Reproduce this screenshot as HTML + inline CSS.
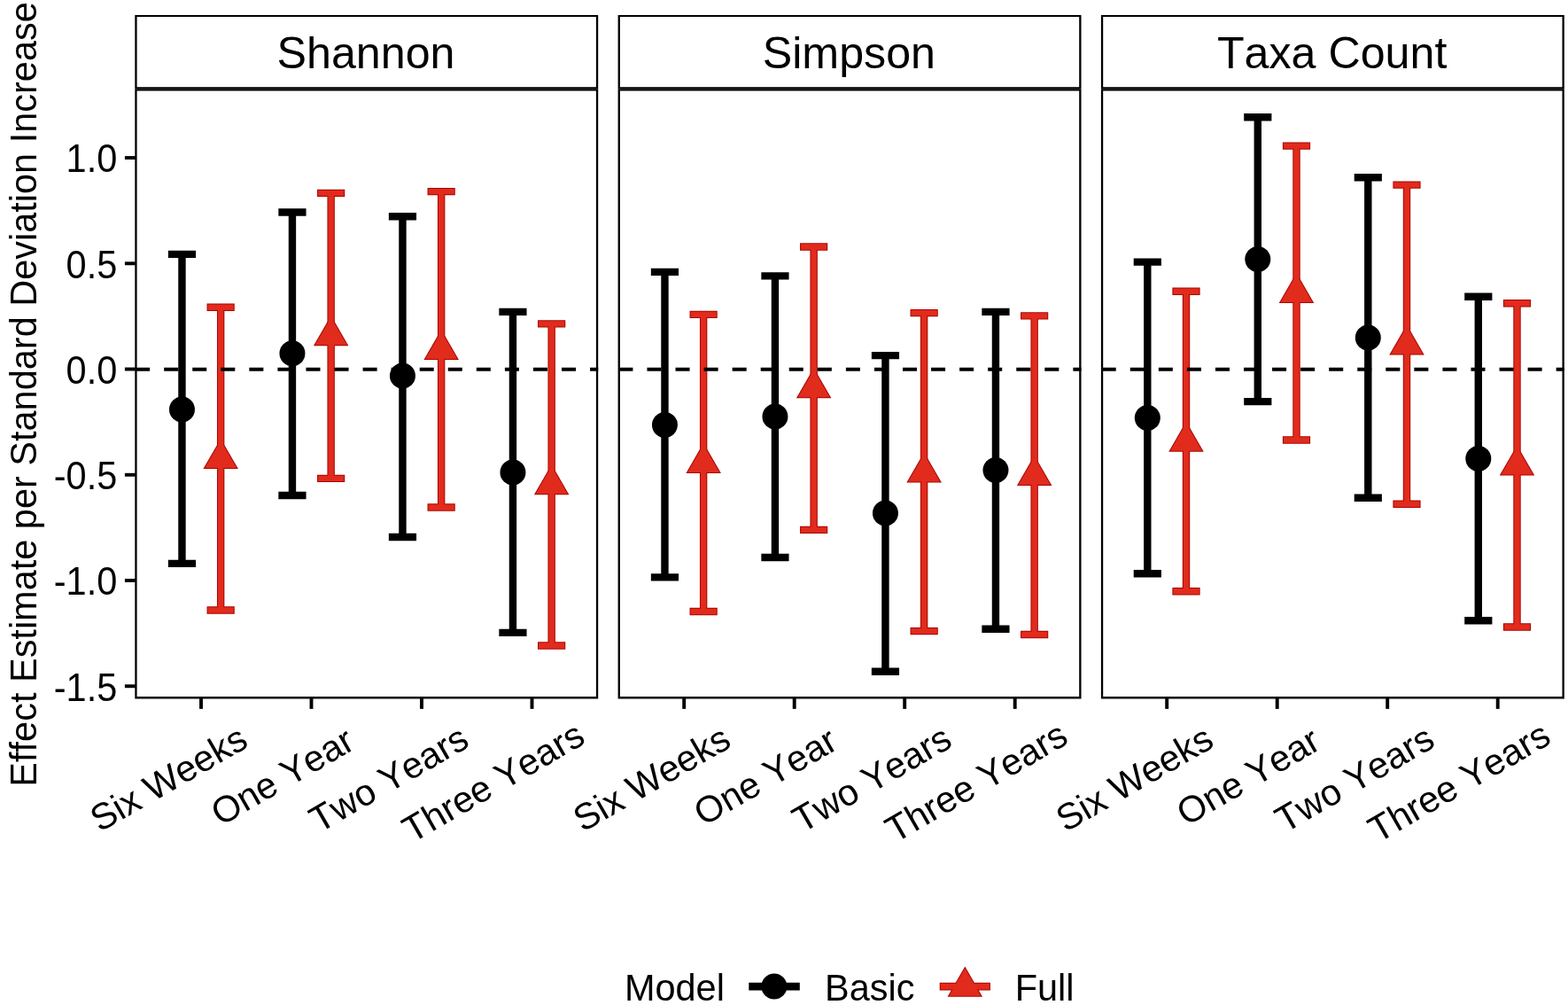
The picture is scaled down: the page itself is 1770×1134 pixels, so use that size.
<!DOCTYPE html>
<html lang="en">
<head>
<meta charset="utf-8">
<title>Effect Estimate per Standard Deviation Increase</title>
<style>
html,body{margin:0;padding:0;background:#fff;}
body{width:1770px;height:1134px;overflow:hidden;}
svg{display:block;}
text{font-family:"Liberation Sans",sans-serif;fill:#000;font-kerning:none;}
.ax{font-size:41.5px;}
.st{font-size:50.2px;}
</style>
</head>
<body>
<svg width="1770" height="1134" viewBox="0 0 1770 1134">
<rect x="0" y="0" width="1770" height="1134" fill="#ffffff"/>
<g>
<path d="M189.85 286.9 H221.05 M205.45 286.9 V635.9 M189.85 635.9 H221.05" fill="none" stroke="#000000" stroke-width="8.4"/>
<circle cx="205.45" cy="462" r="14.5" fill="#000000"/>
<path d="M314.35 239.5 H345.55 M329.95 239.5 V559 M314.35 559 H345.55" fill="none" stroke="#000000" stroke-width="8.4"/>
<circle cx="329.95" cy="398.7" r="14.5" fill="#000000"/>
<path d="M438.85 244.3 H470.05 M454.45 244.3 V606 M438.85 606 H470.05" fill="none" stroke="#000000" stroke-width="8.4"/>
<circle cx="454.45" cy="424.1" r="14.5" fill="#000000"/>
<path d="M563.35 351.9 H594.55 M578.95 351.9 V713.9 M563.35 713.9 H594.55" fill="none" stroke="#000000" stroke-width="8.4"/>
<circle cx="578.95" cy="533" r="14.5" fill="#000000"/>
<path d="M233.55 346.8 H264.75 M249.15 346.8 V688.5 M233.55 688.5 H264.75" fill="none" stroke="#A90400" stroke-width="8.4"/>
<path d="M249.15 494.9 L268.9 529.1 L229.4 529.1 Z" fill="#A90400"/>
<path d="M358.05 217.9 H389.25 M373.65 217.9 V539.9 M358.05 539.9 H389.25" fill="none" stroke="#A90400" stroke-width="8.4"/>
<path d="M373.65 356.1 L393.4 390.3 L353.9 390.3 Z" fill="#A90400"/>
<path d="M482.55 216.1 H513.75 M498.15 216.1 V572.5 M482.55 572.5 H513.75" fill="none" stroke="#A90400" stroke-width="8.4"/>
<path d="M498.15 371.7 L517.9 405.9 L478.4 405.9 Z" fill="#A90400"/>
<path d="M607.05 365.4 H638.25 M622.65 365.4 V728.5 M607.05 728.5 H638.25" fill="none" stroke="#A90400" stroke-width="8.4"/>
<path d="M622.65 524 L642.4 558.2 L602.9 558.2 Z" fill="#A90400"/>
<path d="M234.55 346.8 H263.75 M249.15 346.8 V688.5 M234.55 688.5 H263.75" fill="none" stroke="#E12B1C" stroke-width="6.4"/>
<path d="M249.15 496.9 L267.16 528.1 L231.14 528.1 Z" fill="#E12B1C"/>
<path d="M359.05 217.9 H388.25 M373.65 217.9 V539.9 M359.05 539.9 H388.25" fill="none" stroke="#E12B1C" stroke-width="6.4"/>
<path d="M373.65 358.1 L391.66 389.3 L355.64 389.3 Z" fill="#E12B1C"/>
<path d="M483.55 216.1 H512.75 M498.15 216.1 V572.5 M483.55 572.5 H512.75" fill="none" stroke="#E12B1C" stroke-width="6.4"/>
<path d="M498.15 373.7 L516.16 404.9 L480.14 404.9 Z" fill="#E12B1C"/>
<path d="M608.05 365.4 H637.25 M622.65 365.4 V728.5 M608.05 728.5 H637.25" fill="none" stroke="#E12B1C" stroke-width="6.4"/>
<path d="M622.65 526 L640.66 557.2 L604.64 557.2 Z" fill="#E12B1C"/>
<line x1="153.1" y1="416.7" x2="675.2" y2="416.7" stroke="#000" stroke-width="4.1" stroke-dasharray="16.03 16.03"/>
<path fill-rule="evenodd" fill="#000" d="M152.3 17.05 H675.2 V100.3 H152.3 Z M154.6 19 H672.9 V98.2 H154.6 Z"/>
<path fill-rule="evenodd" fill="#000" d="M152.3 100.3 H675.2 V788.5 H152.3 Z M154.6 102.4 H672.9 V786.1 H154.6 Z"/>
<text class="st" text-anchor="middle" x="413.05" y="77.2">Shannon</text>
<line x1="227" y1="788" x2="227" y2="799.9" stroke="#000" stroke-width="3.9"/>
<text class="ax" text-anchor="end" transform="translate(282.24 841.6) rotate(-30)">Six Weeks</text>
<line x1="351.5" y1="788" x2="351.5" y2="799.9" stroke="#000" stroke-width="3.9"/>
<text class="ax" text-anchor="end" transform="translate(402.76 843.9) rotate(-30)">One Year</text>
<line x1="476" y1="788" x2="476" y2="799.9" stroke="#000" stroke-width="3.9"/>
<text class="ax" text-anchor="end" transform="translate(531.74 841.31) rotate(-30)">Two Years</text>
<line x1="600.5" y1="788" x2="600.5" y2="799.9" stroke="#000" stroke-width="3.9"/>
<text class="ax" text-anchor="end" transform="translate(662.74 837.56) rotate(-30)">Three Years</text>
</g>
<g>
<path d="M734.85 306.9 H766.05 M750.45 306.9 V651.4 M734.85 651.4 H766.05" fill="none" stroke="#000000" stroke-width="8.4"/>
<circle cx="750.45" cy="479.4" r="14.5" fill="#000000"/>
<path d="M859.35 311.4 H890.55 M874.95 311.4 V629 M859.35 629 H890.55" fill="none" stroke="#000000" stroke-width="8.4"/>
<circle cx="874.95" cy="470.1" r="14.5" fill="#000000"/>
<path d="M983.85 401.1 H1015.05 M999.45 401.1 V757.7 M983.85 757.7 H1015.05" fill="none" stroke="#000000" stroke-width="8.4"/>
<circle cx="999.45" cy="578.9" r="14.5" fill="#000000"/>
<path d="M1108.35 351.9 H1139.55 M1123.95 351.9 V709.7 M1108.35 709.7 H1139.55" fill="none" stroke="#000000" stroke-width="8.4"/>
<circle cx="1123.95" cy="530.6" r="14.5" fill="#000000"/>
<path d="M778.55 354.9 H809.75 M794.15 354.9 V690 M778.55 690 H809.75" fill="none" stroke="#A90400" stroke-width="8.4"/>
<path d="M794.15 499.7 L813.9 533.9 L774.4 533.9 Z" fill="#A90400"/>
<path d="M903.05 278.5 H934.25 M918.65 278.5 V597.9 M903.05 597.9 H934.25" fill="none" stroke="#A90400" stroke-width="8.4"/>
<path d="M918.65 415.1 L938.4 449.3 L898.9 449.3 Z" fill="#A90400"/>
<path d="M1027.55 353.1 H1058.75 M1043.15 353.1 V712.1 M1027.55 712.1 H1058.75" fill="none" stroke="#A90400" stroke-width="8.4"/>
<path d="M1043.15 510.2 L1062.9 544.4 L1023.4 544.4 Z" fill="#A90400"/>
<path d="M1152.05 356.4 H1183.25 M1167.65 356.4 V716 M1152.05 716 H1183.25" fill="none" stroke="#A90400" stroke-width="8.4"/>
<path d="M1167.65 513.8 L1187.4 548 L1147.9 548 Z" fill="#A90400"/>
<path d="M779.55 354.9 H808.75 M794.15 354.9 V690 M779.55 690 H808.75" fill="none" stroke="#E12B1C" stroke-width="6.4"/>
<path d="M794.15 501.7 L812.16 532.9 L776.14 532.9 Z" fill="#E12B1C"/>
<path d="M904.05 278.5 H933.25 M918.65 278.5 V597.9 M904.05 597.9 H933.25" fill="none" stroke="#E12B1C" stroke-width="6.4"/>
<path d="M918.65 417.1 L936.66 448.3 L900.64 448.3 Z" fill="#E12B1C"/>
<path d="M1028.55 353.1 H1057.75 M1043.15 353.1 V712.1 M1028.55 712.1 H1057.75" fill="none" stroke="#E12B1C" stroke-width="6.4"/>
<path d="M1043.15 512.2 L1061.16 543.4 L1025.14 543.4 Z" fill="#E12B1C"/>
<path d="M1153.05 356.4 H1182.25 M1167.65 356.4 V716 M1153.05 716 H1182.25" fill="none" stroke="#E12B1C" stroke-width="6.4"/>
<path d="M1167.65 515.8 L1185.66 547 L1149.64 547 Z" fill="#E12B1C"/>
<line x1="698.4" y1="416.7" x2="1220.5" y2="416.7" stroke="#000" stroke-width="4.1" stroke-dasharray="16.03 16.03"/>
<path fill-rule="evenodd" fill="#000" d="M697.6 17.05 H1220.5 V100.3 H697.6 Z M699.9 19 H1218.2 V98.2 H699.9 Z"/>
<path fill-rule="evenodd" fill="#000" d="M697.6 100.3 H1220.5 V788.5 H697.6 Z M699.9 102.4 H1218.2 V786.1 H699.9 Z"/>
<text class="st" text-anchor="middle" x="958.35" y="77.2">Simpson</text>
<line x1="772.2" y1="788" x2="772.2" y2="799.9" stroke="#000" stroke-width="3.9"/>
<text class="ax" text-anchor="end" transform="translate(827.44 841.6) rotate(-30)">Six Weeks</text>
<line x1="896.7" y1="788" x2="896.7" y2="799.9" stroke="#000" stroke-width="3.9"/>
<text class="ax" text-anchor="end" transform="translate(947.96 843.9) rotate(-30)">One Year</text>
<line x1="1021.2" y1="788" x2="1021.2" y2="799.9" stroke="#000" stroke-width="3.9"/>
<text class="ax" text-anchor="end" transform="translate(1076.94 841.31) rotate(-30)">Two Years</text>
<line x1="1145.7" y1="788" x2="1145.7" y2="799.9" stroke="#000" stroke-width="3.9"/>
<text class="ax" text-anchor="end" transform="translate(1207.94 837.56) rotate(-30)">Three Years</text>
</g>
<g>
<path d="M1279.7 295.6 H1310.9 M1295.3 295.6 V647.2 M1279.7 647.2 H1310.9" fill="none" stroke="#000000" stroke-width="8.4"/>
<circle cx="1295.3" cy="471.6" r="14.5" fill="#000000"/>
<path d="M1404.2 132.2 H1435.4 M1419.8 132.2 V453.1 M1404.2 453.1 H1435.4" fill="none" stroke="#000000" stroke-width="8.4"/>
<circle cx="1419.8" cy="292.6" r="14.5" fill="#000000"/>
<path d="M1528.7 200.2 H1559.9 M1544.3 200.2 V561.8 M1528.7 561.8 H1559.9" fill="none" stroke="#000000" stroke-width="8.4"/>
<circle cx="1544.3" cy="381" r="14.5" fill="#000000"/>
<path d="M1653.2 334.8 H1684.4 M1668.8 334.8 V700.3 M1653.2 700.3 H1684.4" fill="none" stroke="#000000" stroke-width="8.4"/>
<circle cx="1668.8" cy="517.4" r="14.5" fill="#000000"/>
<path d="M1323.4 328.8 H1354.6 M1339 328.8 V667.3 M1323.4 667.3 H1354.6" fill="none" stroke="#A90400" stroke-width="8.4"/>
<path d="M1339 475.5 L1358.75 509.7 L1319.25 509.7 Z" fill="#A90400"/>
<path d="M1447.9 164.6 H1479.1 M1463.5 164.6 V496.5 M1447.9 496.5 H1479.1" fill="none" stroke="#A90400" stroke-width="8.4"/>
<path d="M1463.5 307.8 L1483.25 342 L1443.75 342 Z" fill="#A90400"/>
<path d="M1572.4 208.6 H1603.6 M1588 208.6 V568.7 M1572.4 568.7 H1603.6" fill="none" stroke="#A90400" stroke-width="8.4"/>
<path d="M1588 366.3 L1607.75 400.5 L1568.25 400.5 Z" fill="#A90400"/>
<path d="M1696.9 342.3 H1728.1 M1712.5 342.3 V707.5 M1696.9 707.5 H1728.1" fill="none" stroke="#A90400" stroke-width="8.4"/>
<path d="M1712.5 502.4 L1732.25 536.6 L1692.75 536.6 Z" fill="#A90400"/>
<path d="M1324.4 328.8 H1353.6 M1339 328.8 V667.3 M1324.4 667.3 H1353.6" fill="none" stroke="#E12B1C" stroke-width="6.4"/>
<path d="M1339 477.5 L1357.01 508.7 L1320.99 508.7 Z" fill="#E12B1C"/>
<path d="M1448.9 164.6 H1478.1 M1463.5 164.6 V496.5 M1448.9 496.5 H1478.1" fill="none" stroke="#E12B1C" stroke-width="6.4"/>
<path d="M1463.5 309.8 L1481.51 341 L1445.49 341 Z" fill="#E12B1C"/>
<path d="M1573.4 208.6 H1602.6 M1588 208.6 V568.7 M1573.4 568.7 H1602.6" fill="none" stroke="#E12B1C" stroke-width="6.4"/>
<path d="M1588 368.3 L1606.01 399.5 L1569.99 399.5 Z" fill="#E12B1C"/>
<path d="M1697.9 342.3 H1727.1 M1712.5 342.3 V707.5 M1697.9 707.5 H1727.1" fill="none" stroke="#E12B1C" stroke-width="6.4"/>
<path d="M1712.5 504.4 L1730.51 535.6 L1694.49 535.6 Z" fill="#E12B1C"/>
<line x1="1243.7" y1="416.7" x2="1765.8" y2="416.7" stroke="#000" stroke-width="4.1" stroke-dasharray="16.03 16.03"/>
<path fill-rule="evenodd" fill="#000" d="M1242.9 17.05 H1765.8 V100.3 H1242.9 Z M1245.2 19 H1763.5 V98.2 H1245.2 Z"/>
<path fill-rule="evenodd" fill="#000" d="M1242.9 100.3 H1765.8 V788.5 H1242.9 Z M1245.2 102.4 H1763.5 V786.1 H1245.2 Z"/>
<text class="st" text-anchor="middle" x="1503.65" y="77.2">Taxa Count</text>
<line x1="1317.2" y1="788" x2="1317.2" y2="799.9" stroke="#000" stroke-width="3.9"/>
<text class="ax" text-anchor="end" transform="translate(1372.44 841.6) rotate(-30)">Six Weeks</text>
<line x1="1441.7" y1="788" x2="1441.7" y2="799.9" stroke="#000" stroke-width="3.9"/>
<text class="ax" text-anchor="end" transform="translate(1492.96 843.9) rotate(-30)">One Year</text>
<line x1="1566.2" y1="788" x2="1566.2" y2="799.9" stroke="#000" stroke-width="3.9"/>
<text class="ax" text-anchor="end" transform="translate(1621.94 841.31) rotate(-30)">Two Years</text>
<line x1="1690.7" y1="788" x2="1690.7" y2="799.9" stroke="#000" stroke-width="3.9"/>
<text class="ax" text-anchor="end" transform="translate(1752.94 837.56) rotate(-30)">Three Years</text>
</g>
<line x1="140.9" y1="178.05" x2="152.8" y2="178.05" stroke="#000" stroke-width="3.9"/>
<text class="ax" text-anchor="end" transform="translate(132.3 194.35) scale(1 1.06)">1.0</text>
<line x1="140.9" y1="297.29" x2="152.8" y2="297.29" stroke="#000" stroke-width="3.9"/>
<text class="ax" text-anchor="end" transform="translate(132.3 313.59) scale(1 1.06)">0.5</text>
<line x1="140.9" y1="416.53" x2="152.8" y2="416.53" stroke="#000" stroke-width="3.9"/>
<text class="ax" text-anchor="end" transform="translate(132.3 432.83) scale(1 1.06)">0.0</text>
<line x1="140.9" y1="535.77" x2="152.8" y2="535.77" stroke="#000" stroke-width="3.9"/>
<text class="ax" text-anchor="end" transform="translate(132.3 552.07) scale(1 1.06)">-0.5</text>
<line x1="140.9" y1="655.01" x2="152.8" y2="655.01" stroke="#000" stroke-width="3.9"/>
<text class="ax" text-anchor="end" transform="translate(132.3 671.31) scale(1 1.06)">-1.0</text>
<line x1="140.9" y1="774.25" x2="152.8" y2="774.25" stroke="#000" stroke-width="3.9"/>
<text class="ax" text-anchor="end" transform="translate(132.3 790.55) scale(1 1.06)">-1.5</text>
<text class="ax" text-anchor="middle" transform="translate(40.6 444.9) rotate(-90) scale(1 1.015)">Effect Estimate per Standard Deviation Increase</text>
<text class="ax" transform="translate(704.9 1129) scale(1 1.015)">Model</text>
<line x1="845.3" y1="1113.1" x2="902.8" y2="1113.1" stroke="#000" stroke-width="8.6"/>
<circle cx="873.9" cy="1112.9" r="14.5" fill="#000"/>
<text class="ax" transform="translate(931.1 1129) scale(1 1.015)">Basic</text>
<line x1="1060.7" y1="1113.1" x2="1117.9" y2="1113.1" stroke="#A90400" stroke-width="8.6"/>
<path d="M1089.3 1090.5 L1109.05 1124.7 L1069.55 1124.7 Z" fill="#A90400"/>
<line x1="1061.7" y1="1113.1" x2="1116.9" y2="1113.1" stroke="#E12B1C" stroke-width="6.6"/>
<path d="M1089.3 1092.5 L1107.31 1123.7 L1071.29 1123.7 Z" fill="#E12B1C"/>
<text class="ax" transform="translate(1145.7 1129) scale(1 1.015)">Full</text>
</svg>
</body>
</html>
